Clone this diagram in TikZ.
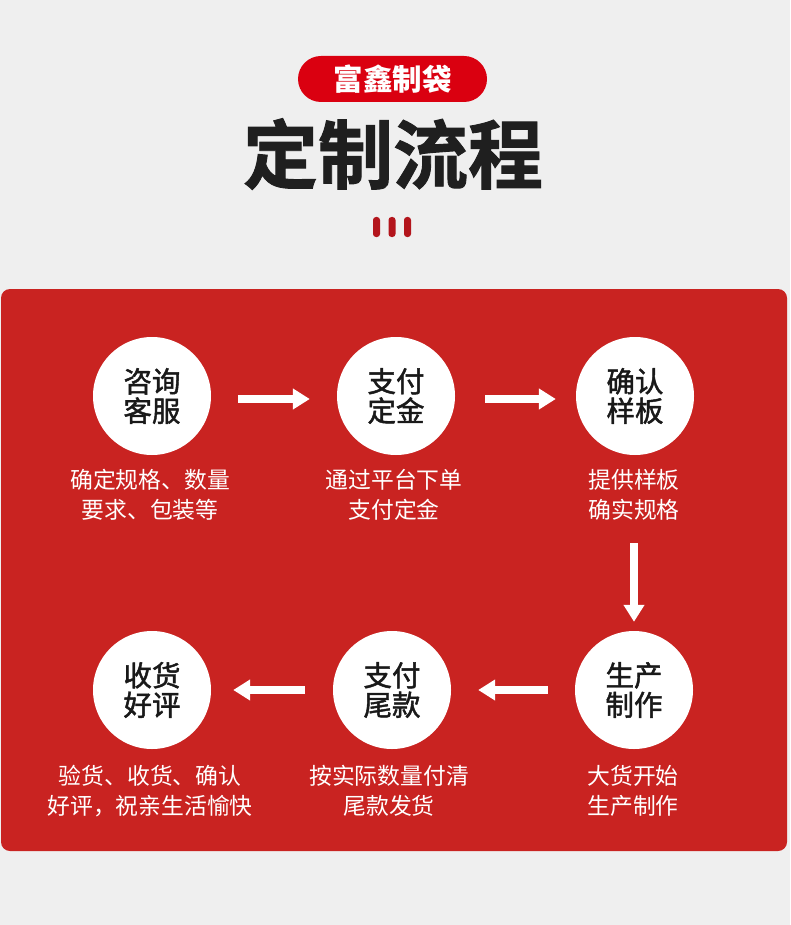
\documentclass[tikz,border=0pt]{standalone}
\usepackage{fontspec}
\setmainfont{Noto Sans CJK SC}
\newfontfamily\midfont[FakeBold=1.6]{Noto Sans CJK SC}
\newfontfamily\heavyfont[FakeBold=1.2]{Noto Sans CJK SC Bold}
\usetikzlibrary{arrows.meta,calc}
\definecolor{bg}{HTML}{EFEFEF}
\definecolor{panel}{HTML}{C92321}
\definecolor{badgered}{HTML}{DA0010}
\definecolor{barred}{HTML}{B3151C}
\tikzset{
  stepcircle/.style={circle, fill=white, minimum size=118pt, inner sep=0pt, align=center,
    font=\midfont\fontsize{28.5}{29.5}\selectfont, text=black!90},
  desc/.style={align=center, text=white, font=\fontsize{22.8}{29.5}\selectfont},
  flowarrow/.style={draw=white, line width=8pt,
    -{Triangle[width=20pt,length=17pt]}},
  topbar/.style={fill=barred, rounded corners=3pt}
}
\begin{document}
\begin{tikzpicture}[x=1pt,y=-1pt]
\fill[bg] (0,0) rectangle (790,925);
\useasboundingbox (0,0) rectangle (790,925);
\fill[panel, rounded corners=9pt] (1,289) rectangle (787,851);

% header
\node[fill=badgered, rounded corners=23pt, minimum width=189pt, minimum height=46pt, inner sep=0pt,
  text=white, font=\fontsize{29.5}{29.5}\selectfont\bfseries] (badge) at (392.5,79) {富鑫制袋};
\node[font=\heavyfont\fontsize{75}{75}\selectfont, text=black!88] (title) at (393,154) {定制流程};
\fill[topbar] (373,217) rectangle (380,237);
\fill[topbar] (388.5,217) rectangle (395.5,237);
\fill[topbar] (404,217) rectangle (411,237);

% circles
\node[stepcircle] (c1) at (152,396) {咨询\\客服};
\node[stepcircle] (c2) at (396,396) {支付\\定金};
\node[stepcircle] (c3) at (635,396) {确认\\样板};
\node[stepcircle] (c4) at (152,690) {收货\\好评};
\node[stepcircle] (c5) at (392,690) {支付\\尾款};
\node[stepcircle] (c6) at (634,690) {生产\\制作};

% descriptions
\node[desc] (d1) at (150,495) {确定规格、数量\\要求、包装等};
\node[desc] (d2) at (394,495) {通过平台下单\\支付定金};
\node[desc] (d3) at (634,495) {提供样板\\确实规格};
\node[desc] (d4) at (150,791) {验货、收货、确认\\好评，祝亲生活愉快};
\node[desc] (d5) at (389,791) {按实际数量付清\\尾款发货};
\node[desc] (d6) at (633,791) {大货开始\\生产制作};

% arrows
\draw[flowarrow] ($(c1.east)+(27,3)$) -- ($(c2.west)+(-27,3)$);
\draw[flowarrow] ($(c2.east)+(30,3)$) -- ($(c3.west)+(-20,3)$);
\draw[flowarrow] ($(c3.south)+(-1,88)$) -- ($(c6.north)+(0,-9)$);
\draw[flowarrow] ($(c6.west)+(-27,0)$) -- ($(c5.east)+(27,0)$);
\draw[flowarrow] ($(c5.west)+(-28,0)$) -- ($(c4.east)+(22,0)$);
\end{tikzpicture}
\end{document}
